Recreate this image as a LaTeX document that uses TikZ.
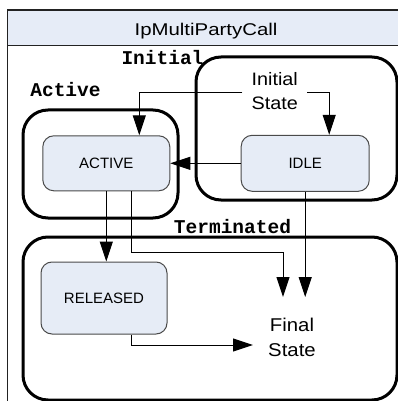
\documentclass[tikz,border=0pt]{standalone}
\usepackage{fontspec}
\setmainfont{Liberation Sans}
\newfontfamily\titlefont{Liberation Sans}[FakeStretch=1.2]
\newfontfamily\statefont{Liberation Sans}[FakeStretch=1.1]
\newfontfamily\regionfont{Liberation Mono}
\usetikzlibrary{arrows.meta}
\definecolor{hdr}{HTML}{E6ECF7}
\definecolor{nfill}{HTML}{E6ECF6}
\definecolor{nline}{HTML}{4A4A4A}
\definecolor{fline}{HTML}{222222}
\begin{document}
\begin{tikzpicture}[x=1pt,y=-1pt,
  region/.style={draw=black,line width=3pt,rounded corners=25pt},
  statebox/.style={draw=nline,fill=nfill,line width=1pt,rounded corners=11pt,inner sep=0pt,font=\fontsize{15}{18}\selectfont},
  regionlabel/.style={font=\regionfont\bfseries\fontsize{19.5}{22}\selectfont,inner sep=0pt,anchor=base},
  pseudo/.style={font=\statefont\fontsize{18}{24}\selectfont,align=center,inner ysep=0pt,inner xsep=9pt},
  conn/.style={draw=black,line width=1pt,-{Triangle[length=20pt,width=13pt]}}
]
\useasboundingbox (0,0) rectangle (398,401);
\clip (0,0) rectangle (398,401);
\fill[white] (0,0) rectangle (398,401);
% outer frame
\draw[fline,line width=1.3pt,fill=hdr] (7.5,10) rectangle (420,45.7);
\draw[fline,line width=1.3pt] (7.5,45.7) -- (7.5,420);
\node[font=\titlefont\fontsize{17}{20}\selectfont,inner sep=0pt,anchor=base] (title) at (206,35.5) {IpMultiPartyCall};
% regions
\draw[region] (196,57) rectangle (397,200);
\draw[region] (23,110) rectangle (178,218);
\draw[region] (23,237) rectangle (397,400);
\node[regionlabel] (linit) at (162.5,65) {Initial};
\node[regionlabel] (lactive) at (65.5,96.5) {Active};
\node[regionlabel] (lterm) at (232.5,233) {Terminated};
% states
\node[statebox,minimum width=127pt,minimum height=55pt] (active) at (106.3,163.3) {ACTIVE};
\node[statebox,minimum width=128pt,minimum height=56pt] (idle) at (305.2,163.3) {IDLE};
\node[statebox,minimum width=126pt,minimum height=72pt] (released) at (104,298) {RELEASED};
\node[pseudo] (init) at (274.7,91) {Initial\\State};
\node[pseudo,font=\statefont\fontsize{18.5}{25}\selectfont] (fin) at (292,337) {Final\\State};
% free ends
\coordinate (bendA) at (283,252);
\coordinate (finA) at (283,297);
\coordinate (finB) at (305.5,297);
\coordinate (finC) at (253,345);
% connectors
\draw[conn] ([yshift=-2pt]init.west) -| ([xshift=33pt]active.north);
\draw[conn] ([yshift=-2pt]init.east) -| ([xshift=24pt]idle.north);
\draw[conn] (idle.west) -- (active.east);
\draw[conn] (active.south) -- (active.south |- released.north);
\draw[conn] ([xshift=25pt]active.south) |- (bendA) -- (finA);
\draw[conn] (idle.south) -- (idle.south |- finB);
\draw[conn] ([xshift=27pt]released.south) |- (finC);
\end{tikzpicture}
\end{document}
